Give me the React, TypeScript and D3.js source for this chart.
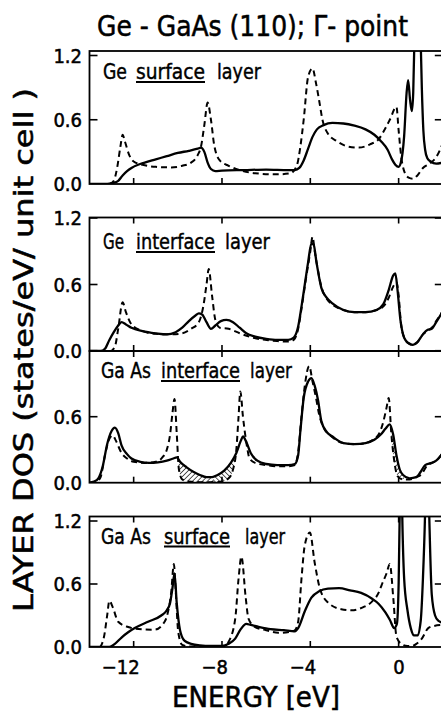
import React from "react";
import * as d3 from "d3";

const W = 441;
const H = 715;
const FONT = "'DejaVu Sans Condensed', 'Liberation Sans Narrow', 'DejaVu Sans', sans-serif";

const energyTicks = [-12, -8, -4, 0];
const dosTicks = [0.0, 0.6, 1.2];

// [energy eV, DOS]; solid = with interface, dashed = bulk reference
const geSurfaceSolid: [number, number][] = [
  [-14, 0], [-13.2, 0], [-12.95, 0.01], [-12.7, 0.03], [-12.5, 0.08], [-12.3, 0.12], [-12.1, 0.15],
  [-11.8, 0.18], [-11.5, 0.2], [-11, 0.23], [-10.5, 0.26], [-10, 0.29], [-9.5, 0.31], [-9.1, 0.33],
  [-8.95, 0.34], [-8.8, 0.3], [-8.65, 0.2], [-8.5, 0.14], [-8.3, 0.12], [-8, 0.125], [-7, 0.13],
  [-6, 0.135], [-5, 0.13], [-4.7, 0.13], [-4.5, 0.15], [-4.3, 0.22], [-4.1, 0.33], [-3.9, 0.44],
  [-3.7, 0.51], [-3.4, 0.55], [-3, 0.57], [-2.5, 0.565], [-2, 0.545], [-1.5, 0.51], [-1.1, 0.46],
  [-0.8, 0.4], [-0.5, 0.32], [-0.3, 0.23], [-0.15, 0.18], [0, 0.16], [0.1, 0.2], [0.25, 0.45],
  [0.36, 0.85], [0.43, 0.97], [0.52, 0.78], [0.6, 0.68], [0.66, 0.85], [0.73, 1.5], [0.86, 2.2],
  [0.98, 1.5], [1.05, 0.9], [1.12, 0.5], [1.2, 0.32], [1.3, 0.24], [1.45, 0.21], [1.7, 0.19], [2, 0.2],
];
const geSurfaceDashed: [number, number][] = [
  [-14, 0], [-13.1, 0], [-12.9, 0.03], [-12.75, 0.15], [-12.6, 0.35], [-12.5, 0.46], [-12.4, 0.4],
  [-12.2, 0.27], [-12, 0.21], [-11.6, 0.18], [-11, 0.16], [-10.3, 0.155], [-9.8, 0.17], [-9.4, 0.2],
  [-9.1, 0.27], [-8.95, 0.35], [-8.8, 0.55], [-8.65, 0.76], [-8.5, 0.6], [-8.35, 0.36], [-8.1, 0.22],
  [-7.7, 0.17], [-7.2, 0.13], [-6.5, 0.1], [-5.5, 0.09], [-4.9, 0.1], [-4.6, 0.18], [-4.45, 0.35],
  [-4.3, 0.6], [-4.1, 1.0], [-3.9, 1.08], [-3.75, 0.95], [-3.6, 0.78], [-3.45, 0.6], [-3.2, 0.47],
  [-2.8, 0.4], [-2.3, 0.35], [-1.8, 0.34], [-1.3, 0.37], [-0.9, 0.42], [-0.6, 0.52], [-0.4, 0.6],
  [-0.1, 0.72], [0, 0.5], [0.12, 0.25], [0.25, 0.12], [0.45, 0.06], [0.65, 0.05], [0.85, 0.08],
  [1.1, 0.15], [1.4, 0.19], [1.7, 0.25], [2, 0.38],
];

const geInterfaceSolid: [number, number][] = [
  [-14, 0], [-13.5, 0], [-13.3, 0.02], [-13.1, 0.1], [-12.9, 0.17], [-12.7, 0.23], [-12.55, 0.26],
  [-12.35, 0.24], [-12.1, 0.21], [-11.6, 0.18], [-11, 0.16], [-10.5, 0.15], [-10.1, 0.17], [-9.8, 0.21],
  [-9.5, 0.27], [-9.2, 0.32], [-9.05, 0.34], [-8.9, 0.33], [-8.7, 0.26], [-8.5, 0.2], [-8.3, 0.23],
  [-8.05, 0.27], [-7.8, 0.28], [-7.5, 0.26], [-7.2, 0.21], [-6.9, 0.16], [-6.5, 0.13], [-6, 0.11],
  [-5.5, 0.1], [-5, 0.1], [-4.75, 0.12], [-4.55, 0.22], [-4.4, 0.4], [-4.25, 0.6], [-4.1, 0.8],
  [-3.95, 0.97], [-3.85, 0.96], [-3.72, 0.8], [-3.5, 0.57], [-3.25, 0.48], [-3, 0.43], [-2.5, 0.37],
  [-2, 0.35], [-1.5, 0.35], [-1, 0.37], [-0.7, 0.42], [-0.45, 0.55], [-0.25, 0.68], [-0.15, 0.7],
  [-0.05, 0.55], [0.08, 0.28], [0.25, 0.12], [0.45, 0.07], [0.65, 0.055], [0.85, 0.08], [1.1, 0.15],
  [1.3, 0.19], [1.5, 0.2], [1.7, 0.26], [2, 0.36],
];
const geInterfaceDashed: [number, number][] = [
  [-14, 0], [-13.05, 0], [-12.85, 0.04], [-12.7, 0.2], [-12.5, 0.44], [-12.35, 0.35], [-12.1, 0.24],
  [-11.6, 0.18], [-11, 0.155], [-10.3, 0.15], [-9.8, 0.16], [-9.4, 0.2], [-9.05, 0.26], [-8.85, 0.4],
  [-8.7, 0.6], [-8.6, 0.74], [-8.45, 0.5], [-8.3, 0.28], [-8.1, 0.21], [-7.7, 0.2], [-7.2, 0.16],
  [-6.6, 0.12], [-6, 0.1], [-5.5, 0.09], [-5, 0.085], [-4.75, 0.1], [-4.55, 0.2], [-4.4, 0.38],
  [-4.2, 0.65], [-4.0, 0.9], [-3.9, 1.03], [-3.8, 0.9], [-3.7, 0.78], [-3.5, 0.58], [-3.25, 0.47],
  [-3, 0.42], [-2.5, 0.37], [-2, 0.35], [-1.5, 0.35], [-1, 0.37], [-0.7, 0.4], [-0.45, 0.48],
  [-0.25, 0.58], [-0.1, 0.62], [0, 0.5], [0.1, 0.26], [0.25, 0.12], [0.45, 0.07], [0.65, 0.06],
  [0.85, 0.08], [1.1, 0.15], [1.3, 0.18], [1.5, 0.21], [1.7, 0.27], [2, 0.36],
];

const gaAsInterfaceSolid: [number, number][] = [
  [-14, 0], [-13.8, 0.01], [-13.6, 0.04], [-13.4, 0.15], [-13.2, 0.35], [-13.0, 0.47], [-12.85, 0.5],
  [-12.7, 0.45], [-12.55, 0.34], [-12.3, 0.26], [-12.1, 0.22], [-11.7, 0.19], [-11.3, 0.18],
  [-10.9, 0.185], [-10.5, 0.2], [-10.2, 0.22], [-10.05, 0.23], [-9.9, 0.19], [-9.6, 0.14], [-9.3, 0.1],
  [-9.0, 0.07], [-8.7, 0.05], [-8.45, 0.05], [-8.2, 0.07], [-7.9, 0.11], [-7.6, 0.18], [-7.35, 0.27],
  [-7.15, 0.38], [-7.05, 0.42], [-6.9, 0.37], [-6.7, 0.27], [-6.4, 0.2], [-6, 0.17], [-5.5, 0.16],
  [-5, 0.16], [-4.7, 0.17], [-4.55, 0.25], [-4.45, 0.47], [-4.3, 0.77], [-4.1, 0.92], [-3.95, 0.95],
  [-3.8, 0.88], [-3.65, 0.75], [-3.5, 0.56], [-3.25, 0.46], [-3, 0.42], [-2.5, 0.36], [-2, 0.35],
  [-1.5, 0.36], [-1.1, 0.39], [-0.8, 0.44], [-0.6, 0.49], [-0.4, 0.53], [-0.25, 0.44], [-0.1, 0.25],
  [0.05, 0.12], [0.2, 0.07], [0.5, 0.04], [0.8, 0.05], [1.0, 0.1], [1.2, 0.16], [1.5, 0.18],
  [1.7, 0.2], [2, 0.27],
];
const gaAsInterfaceDashed: [number, number][] = [
  [-14, 0], [-13.7, 0.01], [-13.5, 0.05], [-13.3, 0.25], [-13.1, 0.4], [-12.95, 0.43], [-12.8, 0.38],
  [-12.55, 0.27], [-12.3, 0.22], [-12, 0.19], [-11.5, 0.18], [-11, 0.19], [-10.7, 0.23], [-10.5, 0.3],
  [-10.35, 0.44], [-10.25, 0.62], [-10.15, 0.76], [-10.05, 0.45], [-9.95, 0.12], [-9.8, 0.03],
  [-9.5, 0.01], [-9, 0.005], [-8.5, 0.005], [-8, 0.01], [-7.7, 0.04], [-7.5, 0.12], [-7.35, 0.3],
  [-7.25, 0.6], [-7.17, 0.83], [-7.05, 0.6], [-6.9, 0.37], [-6.75, 0.22], [-6.5, 0.18], [-6, 0.16],
  [-5.5, 0.15], [-5, 0.15], [-4.7, 0.16], [-4.55, 0.28], [-4.4, 0.6], [-4.25, 0.88], [-4.05, 1.06],
  [-3.9, 0.92], [-3.75, 0.78], [-3.6, 0.62], [-3.4, 0.5], [-3.1, 0.43], [-2.5, 0.36], [-2, 0.35],
  [-1.5, 0.36], [-1.1, 0.4], [-0.9, 0.44], [-0.7, 0.55], [-0.55, 0.68], [-0.45, 0.77], [-0.33, 0.44],
  [-0.2, 0.2], [-0.05, 0.06], [0.2, 0.03], [0.5, 0.03], [0.8, 0.05], [1.05, 0.08], [1.3, 0.16],
  [1.5, 0.18], [1.7, 0.2], [2, 0.27],
];

const gaAsSurfaceSolid: [number, number][] = [
  [-14, 0], [-13.1, 0], [-12.85, 0.03], [-12.55, 0.09], [-12.25, 0.14], [-11.95, 0.18], [-11.35, 0.24],
  [-10.75, 0.3], [-10.5, 0.35], [-10.35, 0.42], [-10.25, 0.55], [-10.15, 0.7], [-10.05, 0.42],
  [-9.9, 0.16], [-9.7, 0.06], [-9.4, 0.03], [-9, 0.015], [-8.5, 0.01], [-8, 0.01], [-7.7, 0.03],
  [-7.4, 0.08], [-7.15, 0.17], [-6.9, 0.22], [-6.7, 0.21], [-6.3, 0.19], [-5.8, 0.17], [-5.2, 0.16],
  [-4.7, 0.15], [-4.55, 0.18], [-4.25, 0.34], [-3.95, 0.47], [-3.6, 0.53], [-3.2, 0.555], [-2.7, 0.56],
  [-2.2, 0.54], [-1.7, 0.515], [-1.2, 0.46], [-0.9, 0.41], [-0.6, 0.33], [-0.4, 0.26], [-0.2, 0.18],
  [-0.08, 0.22], [0, 0.6], [0.05, 1.3], [0.1, 2.2], [0.16, 1.3], [0.25, 0.65], [0.4, 0.35],
  [0.55, 0.18], [0.7, 0.11], [0.85, 0.11], [1.0, 0.25], [1.1, 0.65], [1.2, 1.3], [1.28, 2.2],
  [1.38, 1.3], [1.5, 0.5], [1.65, 0.3], [1.8, 0.25], [2, 0.23],
];
const gaAsSurfaceDashed: [number, number][] = [
  [-14, 0], [-13.55, 0], [-13.35, 0.09], [-13.2, 0.3], [-13.1, 0.44], [-12.95, 0.38], [-12.7, 0.24],
  [-12.25, 0.19], [-11.95, 0.175], [-11.05, 0.165], [-10.6, 0.24], [-10.45, 0.33], [-10.3, 0.52],
  [-10.18, 0.79], [-10.1, 0.55], [-9.98, 0.14], [-9.8, 0.02], [-9.5, 0.005], [-8.5, 0.005],
  [-7.85, 0.01], [-7.7, 0.05], [-7.4, 0.27], [-7.25, 0.65], [-7.12, 0.86], [-6.93, 0.48], [-6.8, 0.27],
  [-6.5, 0.19], [-6, 0.16], [-5.45, 0.135], [-4.9, 0.145], [-4.7, 0.16], [-4.55, 0.24], [-4.4, 0.65],
  [-4.25, 0.97], [-4.02, 1.09], [-3.8, 0.8], [-3.57, 0.56], [-3.18, 0.42], [-2.6, 0.36], [-2.13, 0.35],
  [-1.6, 0.38], [-1.22, 0.43], [-0.9, 0.52], [-0.77, 0.59], [-0.55, 0.7], [-0.4, 0.79], [-0.24, 0.46],
  [-0.1, 0.1], [0.12, 0.03], [0.4, 0.01], [0.6, 0.01], [0.8, 0.03], [1.05, 0.08], [1.34, 0.18],
  [1.6, 0.2], [2, 0.21],
];

// hatched energy windows (GaAs interface panel), solid above dashed
const hatchWindows: [number, number, string][] = [
  [-10.1, -8.4, "hatchA"],
  [-8.4, -7.15, "hatchB"],
  [-0.45, 0.25, "hatchA"],
];

type Word = { t: string; x: number; w: number; u?: boolean };

const panels = [
  {
    id: "p1", solid: geSurfaceSolid, dashed: geSurfaceDashed,
    y0: 184, y12: 55.5, top: 51, topTicks: false, labels: [0, 0.6, 1.2],
    base: 79, words: [
      { t: "Ge", x: 103, w: 24 }, { t: "surface", x: 136, w: 69, u: true }, { t: "layer", x: 217, w: 44 },
    ] as Word[], hatch: false,
  },
  {
    id: "p2", solid: geInterfaceSolid, dashed: geInterfaceDashed,
    y0: 351, y12: 218, top: 217.5, topTicks: true, labels: [0, 0.6, 1.2],
    base: 249, words: [
      { t: "Ge", x: 103, w: 21 }, { t: "interface", x: 136, w: 79, u: true }, { t: "layer", x: 225, w: 45 },
    ] as Word[], hatch: false,
  },
  {
    id: "p3", solid: gaAsInterfaceSolid, dashed: gaAsInterfaceDashed,
    y0: 482.7, y12: 350.7, top: 351, topTicks: true, labels: [0, 0.6],
    base: 378, words: [
      { t: "Ga As", x: 101, w: 50 }, { t: "interface", x: 161, w: 79, u: true }, { t: "layer", x: 250, w: 42 },
    ] as Word[], hatch: true,
  },
  {
    id: "p4", solid: gaAsSurfaceSolid, dashed: gaAsSurfaceDashed,
    y0: 647, y12: 521, top: 516.5, topTicks: true, labels: [0, 0.6, 1.2],
    base: 543.5, words: [
      { t: "Ga As", x: 101, w: 50 }, { t: "surface", x: 164, w: 66, u: true }, { t: "layer", x: 245, w: 40 },
    ] as Word[], hatch: false,
  },
];

const x = d3.scaleLinear().domain([-14, 2]).range([89.5, 442.8]);

// slight outline to mimic the heavy lettering of the scan
const ink = { fill: "#000", stroke: "#000", strokeWidth: 0.5 };

export default function App() {
  const [xL, xR] = x.range();
  return (
    <svg width={W} height={H} style={{ position: "absolute", left: 0, top: 0, background: "#fff" }}
      fontFamily={FONT}>
      <defs>
        <pattern id="hatchA" patternUnits="userSpaceOnUse" width={3.5} height={3.5}
          patternTransform="rotate(45)">
          <line x1={0} y1={0} x2={0} y2={3.5} stroke="#000" strokeWidth={1.3} />
        </pattern>
        <pattern id="hatchB" patternUnits="userSpaceOnUse" width={3.5} height={3.5}
          patternTransform="rotate(-45)">
          <line x1={0} y1={0} x2={0} y2={3.5} stroke="#000" strokeWidth={1.3} />
        </pattern>
      </defs>
      <text x={97} y={36} fontSize={29} textLength={311} lengthAdjust="spacingAndGlyphs" {...ink}>
        Ge - GaAs (110); Γ- point
      </text>
      {panels.map((p) => {
        const y = d3.scaleLinear().domain([0, 1.2]).range([p.y0, p.y12]);
        const line = d3.line<[number, number]>().x((d) => x(d[0])).y((d) => y(d[1]))
          .curve(d3.curveMonotoneX);
        const underSolid = d3.area<[number, number]>().x((d) => x(d[0])).y0(p.y0).y1((d) => y(d[1]))
          .curve(d3.curveMonotoneX);
        const aboveDashed = d3.area<[number, number]>().x((d) => x(d[0])).y0(p.top - 50).y1((d) => y(d[1]))
          .curve(d3.curveMonotoneX);
        return (
          <g key={p.id}>
            <defs>
              <clipPath id={`clip-${p.id}`}>
                <rect x={xL} y={p.top} width={xR - xL} height={p.y0 - p.top} />
              </clipPath>
              {p.hatch && (
                <clipPath id={`above-${p.id}`}>
                  <path d={aboveDashed(p.dashed) || ""} />
                </clipPath>
              )}
              {p.hatch && hatchWindows.map(([a, b], i) => (
                <clipPath id={`win-${p.id}-${i}`} key={i}>
                  <rect x={x(a)} y={p.top} width={x(b) - x(a)} height={p.y0 - p.top} />
                </clipPath>
              ))}
            </defs>
            {p.hatch && hatchWindows.map(([, , pat], i) => (
              <g key={i} clipPath={`url(#win-${p.id}-${i})`}>
                <g clipPath={`url(#above-${p.id})`}>
                  <path d={underSolid(p.solid) || ""} fill={`url(#${pat})`} />
                </g>
              </g>
            ))}
            <g clipPath={`url(#clip-${p.id})`}>
              <path d={line(p.dashed) || ""} fill="none" stroke="#000" strokeWidth={2}
                strokeDasharray="6 4" />
              <path d={line(p.solid) || ""} fill="none" stroke="#000" strokeWidth={2.3} />
            </g>
            <rect x={xL} y={p.top} width={xR - xL} height={p.y0 - p.top} fill="none" stroke="#000"
              strokeWidth={1.8} />
            {energyTicks.map((e) => (
              <g key={e}>
                <line x1={x(e)} x2={x(e)} y1={p.y0} y2={p.y0 - 6} stroke="#000" strokeWidth={1.6} />
                {p.topTicks && (
                  <line x1={x(e)} x2={x(e)} y1={p.top} y2={p.top + 6} stroke="#000" strokeWidth={1.6} />
                )}
              </g>
            ))}
            {dosTicks.filter((v) => v > 0).map((v) => (
              <g key={v}>
                <line x1={xL} x2={xL + 8} y1={y(v)} y2={y(v)} stroke="#000" strokeWidth={1.6} />
                <line x1={xR - 8} x2={xR} y1={y(v)} y2={y(v)} stroke="#000" strokeWidth={1.6} />
              </g>
            ))}
            {p.labels.map((v) => (
              <text key={v} x={82} y={y(v)} dy="0.36em" fontSize={20} textAnchor="end" {...ink}>
                {d3.format(".1f")(v)}
              </text>
            ))}
            {p.words.map((w) => (
              <g key={w.t}>
                <text x={w.x} y={p.base} fontSize={21} textLength={w.w} lengthAdjust="spacingAndGlyphs"
                  {...ink} strokeWidth={0.4}>
                  {w.t}
                </text>
                {w.u && (
                  <line x1={w.x} x2={w.x + w.w} y1={p.base + 3} y2={p.base + 3} stroke="#000"
                    strokeWidth={1.8} />
                )}
              </g>
            ))}
          </g>
        );
      })}
      {energyTicks.map((e) => (
        <text key={e} x={x(e) + 6} y={667} dy="0.36em" fontSize={20} textAnchor="end" {...ink}>
          {e < 0 ? `−${-e}` : `${e}`}
        </text>
      ))}
      <text x={172} y={707} fontSize={28} textLength={168} lengthAdjust="spacingAndGlyphs" {...ink}>
        ENERGY [eV]
      </text>
      <text transform="translate(33,612) rotate(-90)" fontSize={26} textLength={524}
        lengthAdjust="spacingAndGlyphs" {...ink}>
        LAYER DOS (states/eV/ unit cell )
      </text>
    </svg>
  );
}
